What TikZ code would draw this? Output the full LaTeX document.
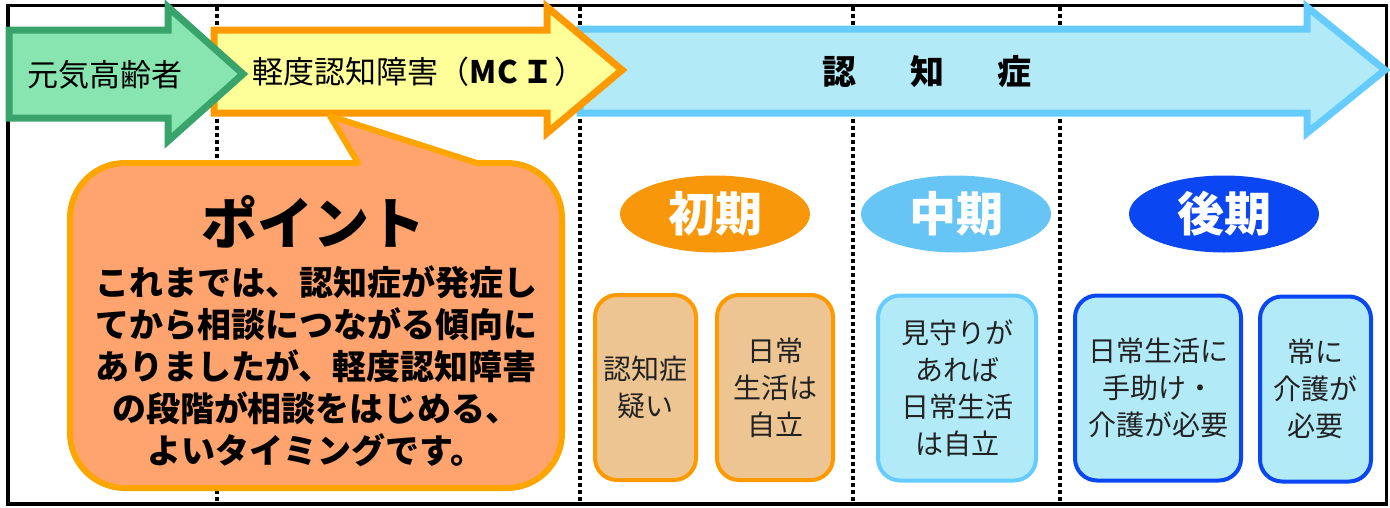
\documentclass[tikz,border=0pt]{standalone}
\usepackage{fontspec}
\setmainfont{Noto Sans CJK JP}
\usepackage{pdfrender}
\usetikzlibrary{shapes.geometric}
\definecolor{grnfill}{HTML}{88E5B0}
\definecolor{grnline}{HTML}{38A36A}
\definecolor{ylwfill}{HTML}{FFFF99}
\definecolor{orgline}{HTML}{FF9900}
\definecolor{bluefill}{HTML}{B3EAF8}
\definecolor{blueline}{HTML}{66CCFF}
\definecolor{callfill}{HTML}{FFA46E}
\definecolor{callline}{HTML}{FFA500}
\definecolor{earlyc}{HTML}{F79709}
\definecolor{midc}{HTML}{66C5F5}
\definecolor{latec}{HTML}{0A46F2}
\definecolor{tanfill}{HTML}{EDC592}
\definecolor{boxtext}{HTML}{222222}
\newcommand{\outl}[1]{{\color{white}\textpdfrender{TextRenderingMode=FillStroke,LineWidth=1.3,StrokeColor=black,FillColor=white}{#1}}}
\tikzset{
  bigarrow/.style={line width=7, line join=miter, miter limit=10},
  arrowtxt/.style={font=\fontsize{31}{36}\selectfont, inner sep=0},
  sepline/.style={line width=3.5, dash pattern=on 3.5 off 3.5},
  phase/.style={ellipse, minimum width=190, minimum height=77, inner sep=0, font=\fontsize{47}{52}\selectfont\bfseries},
  stagebox/.style={draw, rounded corners=22, line width=4, minimum height=185, align=center, text=boxtext, font=\fontsize{28}{37}\selectfont},
}
\begin{document}
\begin{tikzpicture}[x=1pt,y=-1pt]
\useasboundingbox (0,0) rectangle (1390,507);
% frame
\draw[line width=3.5] (8,5.5) rectangle (1386.5,504);
% separators
\foreach \xx in {217,580,853,1060}
  \draw[sepline] (\xx,7) -- (\xx,503);
% arrows
\draw[bigarrow, draw=blueline, fill=bluefill] (580,29) -- (1307,29) -- (1307,7) -- (1385,70) -- (1307,133) -- (1307,113) -- (580,113) -- cycle;
\draw[bigarrow, draw=orgline, fill=ylwfill] (214,30) -- (547,30) -- (547,7) -- (622,70) -- (547,133) -- (547,113) -- (214,113) -- cycle;
\draw[bigarrow, draw=grnline, fill=grnfill] (9,30) -- (168,30) -- (168,7) -- (243,74) -- (168,141) -- (168,118) -- (9,118) -- cycle;
\node[arrowtxt] (healthy) at (105,75) {元気高齢者};
\node[arrowtxt] (mci) at (419,72) {軽度認知障害（{\bfseries MC\,Ｉ}）};
\node[arrowtxt, font=\fontsize{34}{40}\selectfont\bfseries] (dementia) at (927,72) {認\hspace{54pt}知\hspace{53pt}症};
% callout
\draw[line width=6, draw=callline, fill=callfill, line join=round]
  (358,163) -- (330,116) -- (477,163) -- (507,163)
  .. controls (537.4,163) and (562,187.6) .. (562,218) -- (562,433)
  .. controls (562,463.4) and (537.4,488) .. (507,488) -- (125,488)
  .. controls (94.6,488) and (70,463.4) .. (70,433) -- (70,218)
  .. controls (70,187.6) and (94.6,163) .. (125,163) -- cycle;
\node[font=\fontsize{56}{60}\selectfont\bfseries, inner sep=0] (point) at (313,222) {ポイント};
\node[font=\fontsize{34}{42}\selectfont\bfseries, align=center, inner sep=0] (pointtext) at (316,366)
  {これまでは、認知症が発症し\\てから相談につながる傾向に\\ありましたが、軽度認知障害\\の段階が相談をはじめる、\\よいタイミングです。};
% phases
\node[phase, fill=earlyc] (early) at (715,214) {\outl{初期}};
\node[phase, fill=midc] (middle) at (956,214) {\outl{中期}};
\node[phase, fill=latec] (late) at (1224,214) {\outl{後期}};
% boxes
\node[stagebox, draw=orgline, fill=tanfill, minimum width=101] (b1) at (645.5,387.5) {認知症\\疑い};
\node[stagebox, draw=orgline, fill=tanfill, minimum width=116] (b2) at (775,387.5) {日常\\生活は\\自立};
\node[stagebox, draw=blueline, fill=bluefill, minimum width=158] (b3) at (957,388) {見守りが\\あれば\\日常生活\\は自立};
\node[stagebox, draw=latec, fill=bluefill, minimum width=166] (b4) at (1158,388) {日常生活に\\手助け・\\介護が必要};
\node[stagebox, draw=latec, fill=bluefill, minimum width=111] (b5) at (1315.5,389) {常に\\介護が\\必要};
\end{tikzpicture}
\end{document}
